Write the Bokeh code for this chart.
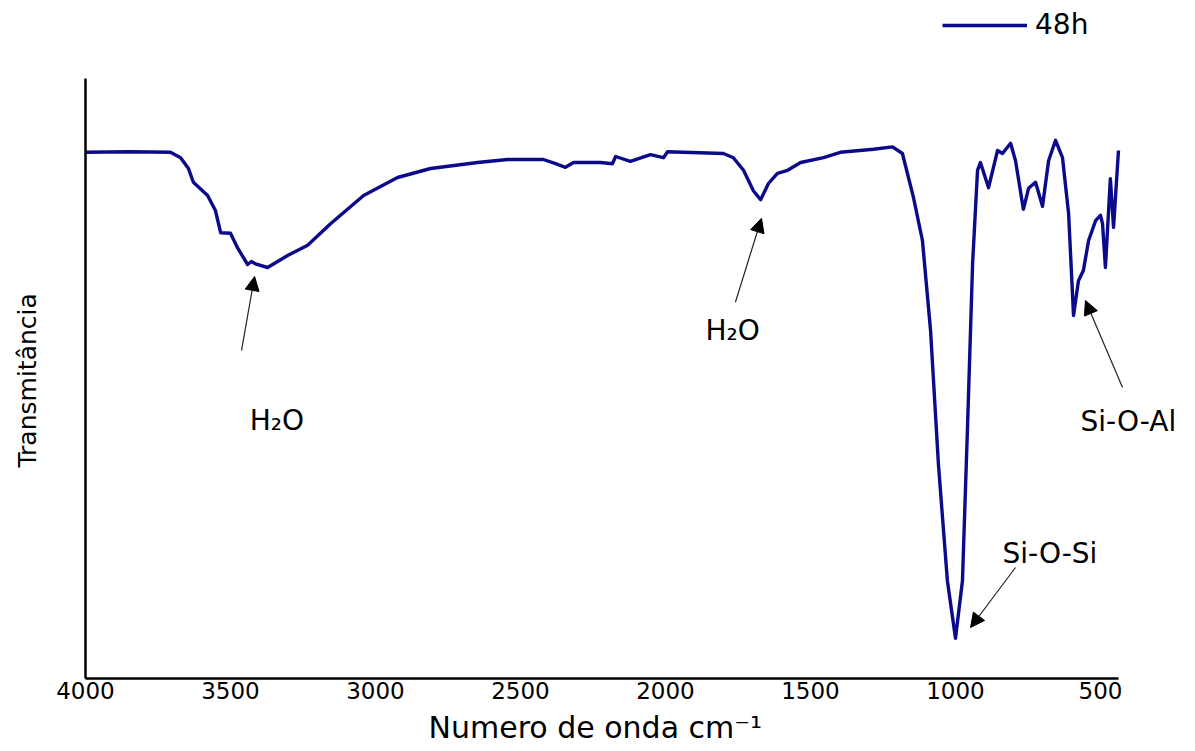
from bokeh.plotting import figure
from bokeh.models import (Range1d, FixedTicker, Label, Arrow, NormalHead,
                          Legend, LegendItem, ColumnDataSource, Title)
from bokeh.embed import file_html
from bokeh.resources import INLINE

# ---- data ----
wavenumber = [4000, 3850, 3707, 3672, 3645, 3628, 3579, 3552, 3534, 3500,
              3476, 3441, 3428, 3414, 3372, 3303, 3234, 3155, 3041, 2924,
              2810, 2648, 2545, 2421, 2379, 2345, 2317, 2224, 2183, 2172,
              2121, 2052, 2007, 1993, 1800, 1766, 1731, 1697, 1672, 1645,
              1614, 1579, 1534, 1455, 1397, 1283, 1217, 1183, 1145, 1114,
              1086, 1059, 1028, 1000, 976, 959, 941, 924, 914, 886,
              855, 838, 810, 793, 766, 748, 724, 700, 679, 655,
              631, 610, 593, 576, 559, 541, 517, 500, 493, 483,
              466, 455, 438]
transmittance = [87.7, 87.8, 87.7, 86.8, 85.0, 82.7, 80.5, 78.0, 74.3, 74.2,
                 71.8, 69.0, 69.5, 69.1, 68.5, 70.5, 72.2, 75.8, 80.5, 83.5,
                 85.0, 86.0, 86.5, 86.5, 85.8, 85.2, 86.0, 86.0, 85.8, 87.0,
                 86.2, 87.3, 86.8, 87.8, 87.5, 86.8, 84.7, 81.3, 79.8, 82.5,
                 84.2, 84.7, 86.0, 86.8, 87.7, 88.2, 88.6, 87.5, 80.2, 73.0,
                 58.0, 35.8, 16.3, 6.7, 16.3, 41.3, 69.2, 84.7, 86.0, 81.8,
                 88.0, 87.5, 89.2, 86.3, 78.2, 81.7, 82.7, 78.7, 86.3, 89.7,
                 86.8, 77.5, 60.5, 66.3, 68.0, 73.0, 76.3, 77.2, 75.8, 68.5,
                 83.3, 75.2, 88.0]
series_name = "48h"
x_ticks = [4000, 3500, 3000, 2500, 2000, 1500, 1000, 500]

FONT = "DejaVu Sans"
LINE_COLOR = "#0a0a8a"

# frame spans to the right and top edges so that the legend and labels
# outside the axes are not clipped; axis lines are limited with bounds
p = figure(width=1195, height=751, output_backend="svg", toolbar_location=None,
           x_range=Range1d(4000, 172.4), y_range=Range1d(0, 113),
           min_border_left=85, min_border_right=0,
           min_border_top=0, min_border_bottom=73)
p.outline_line_color = None
p.xgrid.visible = False
p.ygrid.visible = False
p.background_fill_color = "white"
p.border_fill_color = "white"

src = ColumnDataSource(dict(x=wavenumber, y=transmittance))
r = p.line("x", "y", source=src, line_color=LINE_COLOR, line_width=3.4,
           line_join="round")

# x axis
xa = p.xaxis[0]
xa.bounds = (438, 4000)
xa.ticker = FixedTicker(ticks=x_ticks)
xa.major_tick_line_color = None
xa.minor_tick_line_color = None
xa.major_tick_out = 0
xa.major_tick_in = 0
xa.major_label_standoff = 3
xa.major_label_text_font = FONT
xa.major_label_text_font_size = "23px"
xa.major_label_text_color = "black"
xa.axis_line_width = 2.5
xa.axis_line_color = "black"

# y axis (no ticks)
ya = p.yaxis[0]
ya.bounds = (0, 100)
ya.ticker = FixedTicker(ticks=[])
ya.major_tick_line_color = None
ya.minor_tick_line_color = None
ya.major_tick_out = 0
ya.major_tick_in = 0
ya.major_label_text_font_size = "0px"
ya.axis_line_width = 2.5
ya.axis_line_color = "black"

# axis titles as side-panel titles (positioned along the drawn axis lines)
p.add_layout(Title(text="Numero de onda cm\u207b\u00b9", align="left",
                   offset=343, standoff=13, text_font=FONT,
                   text_font_size="30px", text_font_style="normal",
                   text_color="black"), "below")
# blank spacer panel so that the y title sits near the left edge
p.add_layout(Title(text=" ", standoff=0, text_font=FONT,
                   text_font_size="28px", text_font_style="normal"), "left")
p.add_layout(Title(text="Transmitância", align="left", offset=211,
                   standoff=17, text_font=FONT, text_font_size="25px",
                   text_font_style="normal", text_color="black"), "left")

# legend
legend = Legend(items=[LegendItem(label=series_name, renderers=[r])],
                location=(857, 637), border_line_color=None,
                background_fill_alpha=0, margin=0, padding=0,
                glyph_width=85, glyph_height=20, label_standoff=8,
                label_text_font=FONT, label_text_font_size="28px",
                label_text_color="black")
p.add_layout(legend)

# annotations
def arrow(x0, y0, x1, y1):
    p.add_layout(Arrow(end=NormalHead(size=14, fill_color="black",
                                      line_color="black", line_width=1),
                       x_start=x0, y_start=y0, x_end=x1, y_end=y1,
                       line_color="#222222", line_width=1.2))

def label(x, y, text, size="26px"):
    p.add_layout(Label(x=x, y=y, text=text, text_font=FONT,
                       text_font_size=size, text_color="black",
                       text_baseline="alphabetic", text_align="left"))

arrow(3462, 54.7, 3417, 67.0)
arrow(1759, 62.7, 1669, 76.7)
arrow(793, 18.5, 948, 8.5)
arrow(424, 48.5, 552, 63.0)

label(3434, 43.0, "H\u2082O", "28px")
label(1862, 58.0, "H\u2082O", "28px")
label(838, 20.8, "Si-O-Si", "28px")
label(569, 42.8, "Si-O-Al", "28px")

open("out.html", "w").write(file_html(p, INLINE))
